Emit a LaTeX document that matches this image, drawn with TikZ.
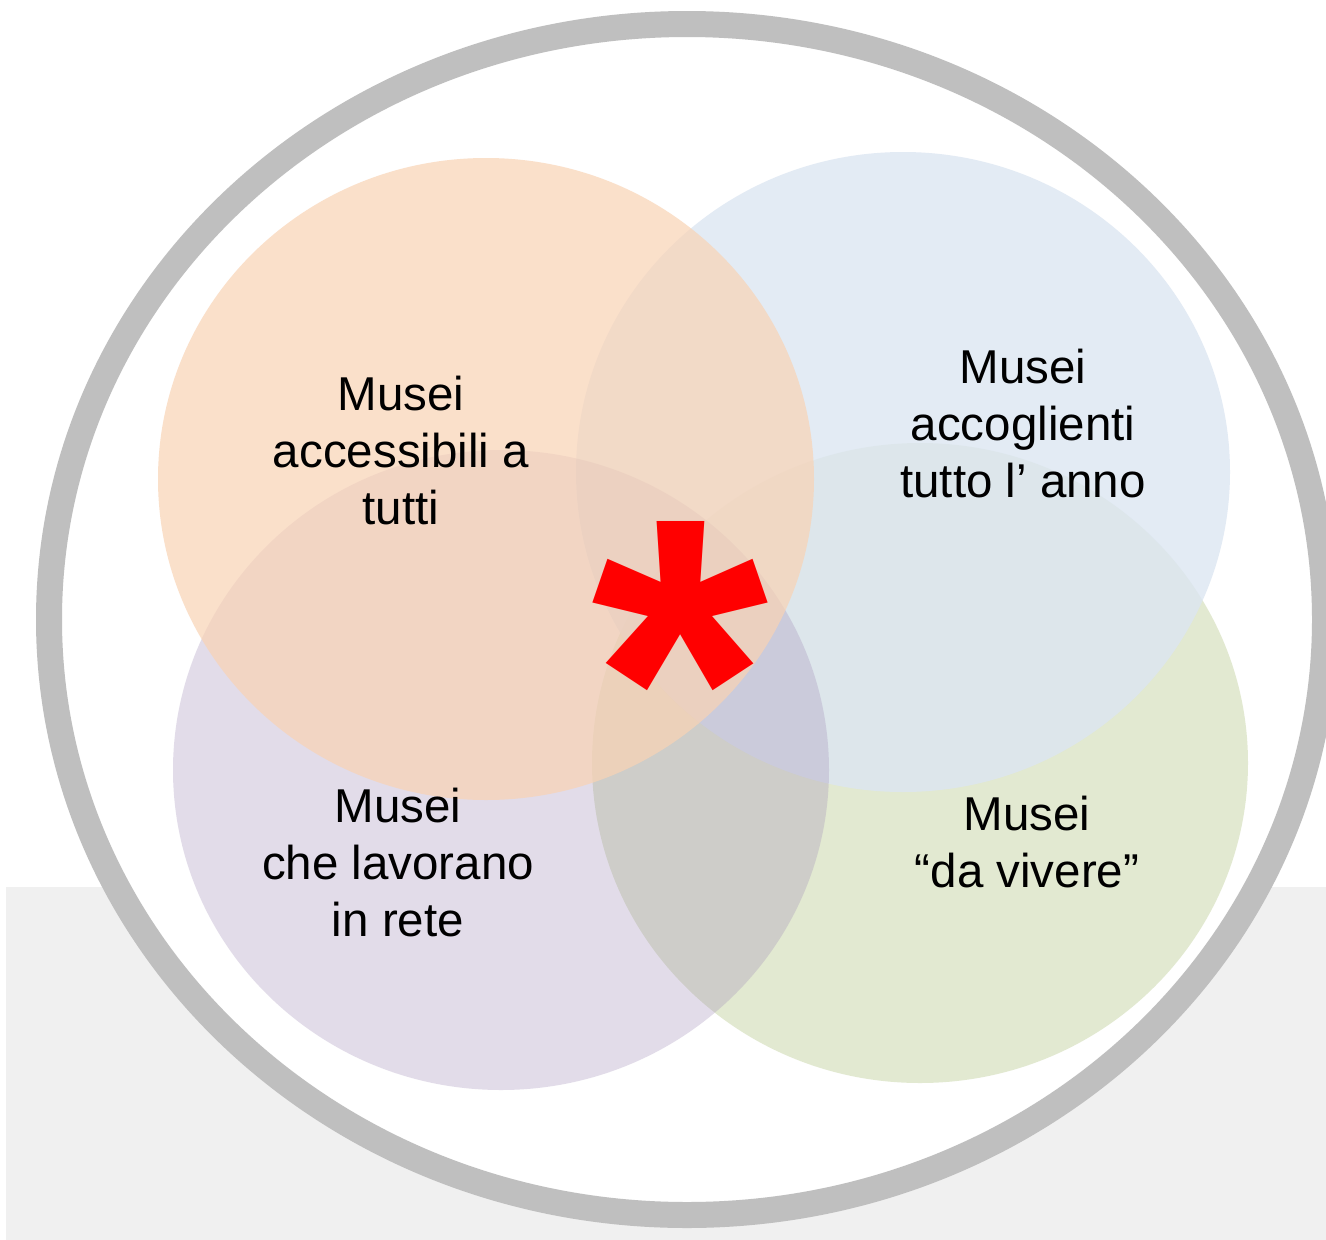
\documentclass[tikz,border=0pt]{standalone}
\usepackage{fontspec}
\setmainfont{Liberation Sans}
\definecolor{ringgray}{RGB}{191,191,191}
\definecolor{bggray}{RGB}{240,240,240}
\definecolor{cgreen}{RGB}{162,185,105}
\definecolor{cblue}{RGB}{220,230,242}
\definecolor{cpurple}{RGB}{162,142,185}
\definecolor{corange}{RGB}{249,211,180}
\definecolor{astred}{RGB}{255,0,0}
\begin{document}
\begin{tikzpicture}[x=1pt,y=-1pt,
  lbl/.style={align=center,inner sep=0pt,font=\fontsize{47.5}{57}\selectfont,text=black}]
\useasboundingbox (0,0) rectangle (1326,1240);
\fill[white] (0,0) rectangle (1326,1240);
% light gray band
\fill[bggray] (6,887) rectangle (1326,1240);
% outer ring
\draw[ringgray,line width=26pt,fill=white] (687,619.5) ellipse [x radius=638pt, y radius=595.5pt];
% set circles
\fill[cgreen,fill opacity=0.3] (920,763) ellipse [x radius=328pt, y radius=320pt];
\fill[cblue,fill opacity=0.8] (903,472) ellipse [x radius=327pt, y radius=320pt];
\fill[cpurple,fill opacity=0.3] (501,770) ellipse [x radius=328pt, y radius=320pt];
\fill[corange,fill opacity=0.7] (486,479) ellipse [x radius=328pt, y radius=321pt];
% labels
\node[lbl] (acc) at (401,450.5) {Musei\\accessibili a\\tutti};
\node[lbl] (acco) at (1023,423.5) {Musei\\accoglienti\\tutto l’ anno};
\node[lbl] (rete) at (398,862.5) {Musei\\che lavorano\\in rete};
\node[lbl] (viv) at (1027,842) {Musei\\“da vivere”};
% asterisk
\node[inner sep=0pt,anchor=base,text=astred,font=\fontsize{455}{455}\selectfont\bfseries] (ast) at (680,834.5) {*};
\end{tikzpicture}
\end{document}
